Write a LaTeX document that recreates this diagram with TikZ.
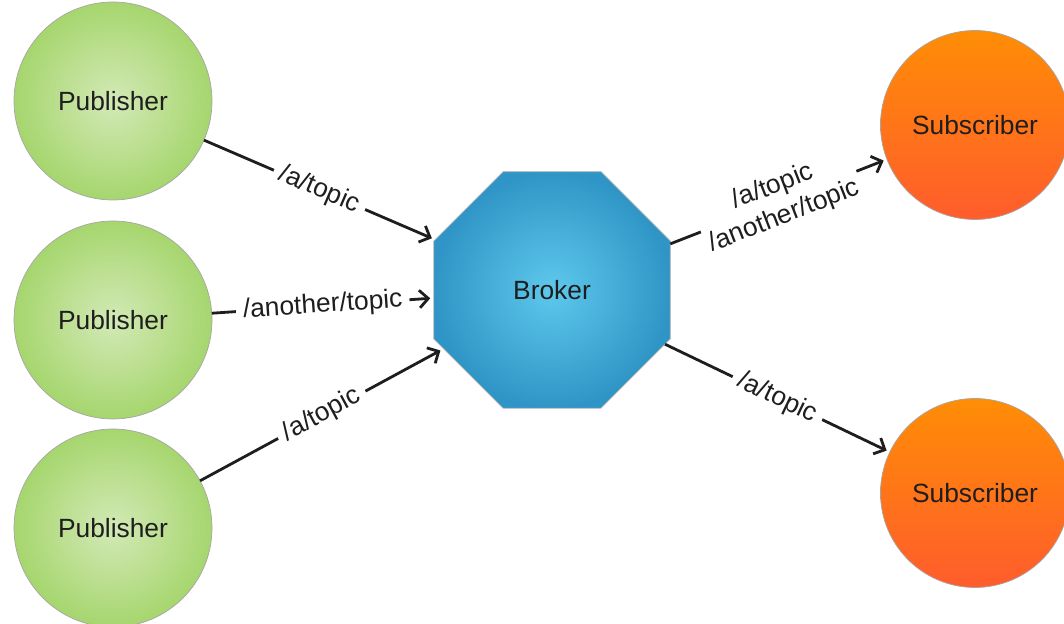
\documentclass[tikz,border=0pt]{standalone}
\usepackage{fontspec}
\setmainfont{Liberation Sans}
\usepackage{tikz}
\usetikzlibrary{arrows.meta, calc, positioning, shapes.geometric}
\usepackage{xcolor}

\definecolor{pubin}{HTML}{D3E9B6}
\definecolor{pubout}{HTML}{A6D66E}
\definecolor{brokin}{HTML}{5EC8EC}
\definecolor{brokout}{HTML}{2F95C6}
\definecolor{subtop}{HTML}{FF8D05}
\definecolor{subbot}{HTML}{FF5C2C}
\definecolor{ink}{HTML}{1E1E1E}

\tikzset{
    every node/.style={font=\fontsize{15}{18}\selectfont, text=ink},
    publisher/.style={circle, minimum size=3.96cm, inner sep=0pt, outer sep=0pt,
        draw=gray!70, line width=0.4pt, inner color=pubin, outer color=pubout},
    subscriber/.style={circle, minimum size=3.78cm, inner sep=0pt, outer sep=0pt,
        draw=gray!70, line width=0.4pt, top color=subtop, bottom color=subbot},
    broker/.style={regular polygon, regular polygon sides=8, minimum size=5.12cm,
        inner sep=0pt, outer sep=0pt, draw=gray!60, line width=0.4pt,
        inner color=brokin, outer color=brokout},
    flow/.style={draw=ink, line width=1.6pt, shorten >=2pt,
        -{Straight Barb[length=5pt,width=10pt]}},
    topic/.style={sloped, fill=white, inner sep=4pt, align=center}
}

\begin{document}
\begin{tikzpicture}
    \useasboundingbox (0,0) rectangle (21.28,12.48);

    % clients on the left, broker in the middle, clients on the right
    \node[publisher] (pub1) at (2.26,10.46) {Publisher};
    \node[publisher] (pub2) at (2.26,6.08) {Publisher};
    \node[publisher] (pub3) at (2.26,1.92) {Publisher};

    \node[broker] (broker) at (11.04,6.68) {Broker};

    \node[subscriber] (sub1) at (19.50,9.98) {Subscriber};
    \node[subscriber] (sub2) at (19.50,2.62) {Subscriber};

    % messages published to the broker
    \draw[flow] (pub1) -- node[topic] {/a/topic} (broker);
    \draw[flow] (pub2) -- node[topic] {/another/topic} (broker);
    \draw[flow] (pub3) -- node[topic] {/a/topic} (broker);

    % messages forwarded to subscribers
    \draw[flow] (broker) -- node[topic, inner sep=2pt] {/a/topic\\/another/topic} (sub1);
    \draw[flow] (broker) -- node[topic] {/a/topic} (sub2);
\end{tikzpicture}
\end{document}
